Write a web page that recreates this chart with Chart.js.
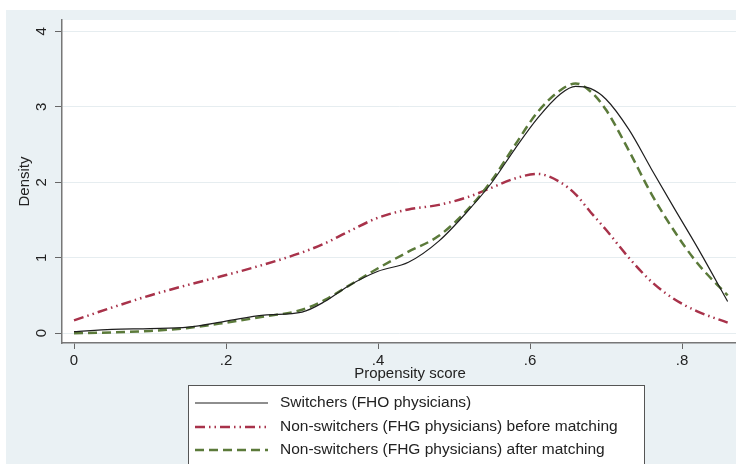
<!DOCTYPE html>
<html>
<head>
<meta charset="utf-8">
<script src="https://cdn.jsdelivr.net/npm/chart.js@4.4.1/dist/chart.umd.min.js"></script>
<style>
  html, body { margin: 0; padding: 0; background: #fff; }
  canvas { display: block; }
</style>
</head>
<body>
<canvas id="chart" width="736" height="464"></canvas>
<script>
// propensity score grid and the three density curves
const scores      = [0, .05, .1, .15, .2, .25, .3, .33, .36, .4, .44, .48, .52, .55, .58, .61, .64, .66, .68, .70, .73, .76, .79, .82, .86];
const switchers   = [0.02, 0.05, 0.06, 0.08, 0.16, 0.24, 0.28, 0.42, 0.62, 0.82, 0.94, 1.22, 1.64, 2.0, 2.44, 2.85, 3.17, 3.27, 3.24, 3.1, 2.7, 2.17, 1.65, 1.14, 0.42];
const beforeMatch = [0.17, 0.34, 0.5, 0.64, 0.77, 0.91, 1.07, 1.19, 1.34, 1.53, 1.64, 1.7, 1.81, 1.93, 2.05, 2.11, 2.0, 1.84, 1.6, 1.37, 1.0, 0.68, 0.45, 0.29, 0.14];
const afterMatch  = [0.0, 0.01, 0.03, 0.07, 0.14, 0.22, 0.31, 0.44, 0.62, 0.86, 1.08, 1.29, 1.66, 2.03, 2.49, 2.93, 3.22, 3.31, 3.2, 2.96, 2.42, 1.84, 1.35, 0.93, 0.5];

const seriesNames = [
  "Switchers (FHO physicians)",
  "Non-switchers (FHG physicians) before matching",
  "Non-switchers (FHG physicians) after matching"
];

const xTicks = [0, 0.2, 0.4, 0.6, 0.8];
const xTickLabels = ["0", ".2", ".4", ".6", ".8"];
const yTicks = [0, 1, 2, 3, 4];

const FONT = "'Liberation Sans', Arial, Helvetica, sans-serif";

function toPoints(ys) {
  return scores.map((x, i) => ({ x: x, y: ys[i] }));
}

// stata-ish frame: grey outer region, rotated y labels, x title, boxed legend
const stataFrame = {
  id: "stataFrame",
  beforeDraw(chart) {
    const ctx = chart.ctx, a = chart.chartArea;
    ctx.save();
    ctx.fillStyle = "#eaf1f4";
    ctx.fillRect(6, 10, chart.width - 6, chart.height - 10);
    ctx.fillStyle = "#fff";
    ctx.fillRect(a.left, a.top, a.right - a.left, a.bottom - a.top);
    ctx.restore();
  },
  afterDraw(chart) {
    const ctx = chart.ctx, y = chart.scales.y;
    ctx.save();
    ctx.fillStyle = "#222";
    ctx.font = "15px " + FONT;
    ctx.textAlign = "center";
    ctx.textBaseline = "middle";

    yTicks.forEach(v => {
      ctx.save();
      ctx.translate(42, y.getPixelForValue(v));
      ctx.rotate(-Math.PI / 2);
      ctx.fillText(String(v), 0, 0);
      ctx.restore();
    });

    ctx.fillText("Propensity score", 410, 374);

    // legend
    const rows = [403, 427, 450];
    ctx.fillStyle = "#fff";
    ctx.fillRect(188, 385, 456, 90);
    ctx.strokeStyle = "#555";
    ctx.lineWidth = 1;
    ctx.strokeRect(188.5, 385.5, 456, 90);
    ctx.font = "15.5px " + FONT;
    chart.data.datasets.forEach((ds, i) => {
      ctx.strokeStyle = ds.borderColor;
      ctx.lineWidth = ds.borderWidth;
      ctx.setLineDash(ds.borderDash || []);
      ctx.beginPath();
      ctx.moveTo(195, rows[i]);
      ctx.lineTo(268, rows[i]);
      ctx.stroke();
      ctx.setLineDash([]);
      ctx.textAlign = "left";
      ctx.fillStyle = "#222";
      ctx.fillText(ds.label, 280, rows[i]);
    });
    ctx.restore();
  }
};

new Chart(document.getElementById("chart"), {
  type: "line",
  data: {
    datasets: [
      {
        label: seriesNames[0],
        data: toPoints(switchers),
        borderColor: "#1e1e1e",
        borderWidth: 1.2,
        borderDash: [],
        order: 1
      },
      {
        label: seriesNames[1],
        data: toPoints(beforeMatch),
        borderColor: "#a8324a",
        borderWidth: 2.5,
        borderDash: [10, 4, 1.5, 4, 1.5, 4],
        order: 3
      },
      {
        label: seriesNames[2],
        data: toPoints(afterMatch),
        borderColor: "#5b7a3a",
        borderWidth: 2.5,
        borderDash: [9, 5],
        order: 2
      }
    ]
  },
  options: {
    responsive: false,
    animation: false,
    devicePixelRatio: 1,
    elements: {
      point: { radius: 0 },
      line: { cubicInterpolationMode: "monotone", fill: false }
    },
    layout: { padding: { left: 0, top: 20, right: 0, bottom: 0 } },
    plugins: {
      legend: { display: false },
      tooltip: { enabled: false }
    },
    scales: {
      x: {
        type: "linear",
        min: -0.0158,
        max: 0.871,
        afterBuildTicks: s => { s.ticks = xTicks.map(v => ({ value: v })); },
        afterFit: s => { s.height = 121; },
        ticks: {
          color: "#222",
          font: { family: FONT, size: 15 },
          padding: 3,
          maxRotation: 0,
          callback: (v) => xTickLabels[xTicks.indexOf(v)] ?? ""
        },
        grid: { drawOnChartArea: false, tickLength: 6, tickColor: "#666" },
        border: { color: "#777", width: 1.5 }
      },
      y: {
        type: "linear",
        min: -0.13,
        max: 4.15,
        afterBuildTicks: s => { s.ticks = yTicks.map(v => ({ value: v })); },
        afterFit: s => { s.width = 62; },
        ticks: { display: false },
        grid: { color: "#e6edf0", tickLength: 7, tickColor: "#666" },
        border: { color: "#777", width: 1.5 },
        title: {
          display: true,
          text: "Density",
          color: "#222",
          font: { family: FONT, size: 15 },
          padding: { top: 16, bottom: 0 }
        }
      }
    }
  },
  plugins: [stataFrame]
});
</script>
</body>
</html>
